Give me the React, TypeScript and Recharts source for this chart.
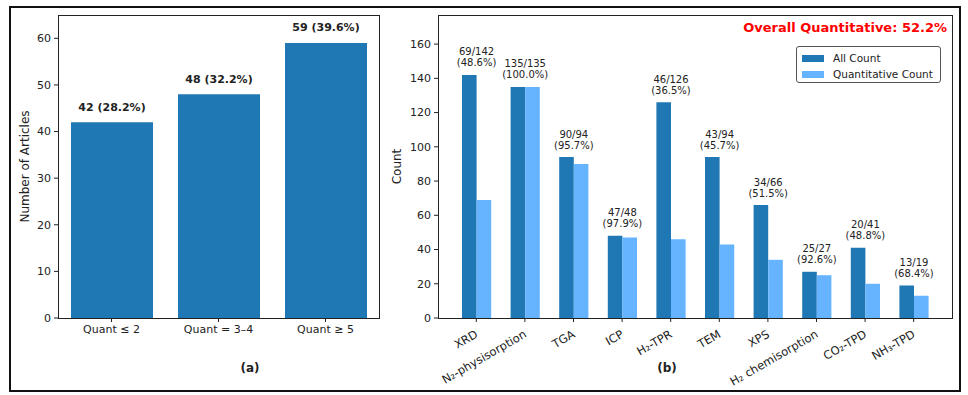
import React from "react";
import { BarChart, Bar, XAxis, YAxis, Legend, LabelList } from "recharts";

const FONT = "'DejaVu Sans', sans-serif";
const DARK = "#1f77b4";
const LIGHT = "#66b3ff";
const INK = "#222";

// panel (a)
const quantGroups = ["Quant ≤ 2", "Quant = 3–4", "Quant ≥ 5"];
const articleCounts = [42, 48, 59];
const leftTicks = [0, 10, 20, 30, 40, 50, 60];

// panel (b)
const techniques = [
  "XRD",
  "N₂-physisorption",
  "TGA",
  "ICP",
  "H₂-TPR",
  "TEM",
  "XPS",
  "H₂ chemisorption",
  "CO₂-TPD",
  "NH₃-TPD",
];
const allCounts = [142, 135, 94, 48, 126, 94, 66, 27, 41, 19];
const quantCounts = [69, 135, 90, 47, 46, 43, 34, 25, 20, 13];
const rightTicks = [0, 20, 40, 60, 80, 100, 120, 140, 160];
const overallText = "Overall Quantitative: 52.2%";

const totalArticles = articleCounts.reduce((a, b) => a + b, 0);
const leftData = quantGroups.map((g, i) => ({
  group: g,
  n: articleCounts[i],
  label: `${articleCounts[i]} (${((articleCounts[i] / totalArticles) * 100).toFixed(1)}%)`,
}));

const rightData = techniques.map((t, i) => ({
  tech: t,
  all: allCounts[i],
  quant: quantCounts[i],
  label: `${quantCounts[i]}/${allCounts[i]}\n(${((quantCounts[i] / allCounts[i]) * 100).toFixed(1)}%)`,
}));

const axisTick = { fontSize: 11, fill: INK, fontFamily: FONT };

function yLabel(text: string, x: number) {
  return (props: any) => {
    const vb = props.viewBox || {};
    const cy = vb.y + vb.height / 2;
    return (
      <text
        x={x}
        y={cy}
        transform={`rotate(-90 ${x} ${cy})`}
        textAnchor="middle"
        dominantBaseline="central"
        fontSize={12}
        fill={INK}
        fontFamily={FONT}
      >
        {text}
      </text>
    );
  };
}

function CountLabel(props: any) {
  const { x, y, width, value } = props;
  return (
    <text x={x + width / 2} y={y - 15} textAnchor="middle" dominantBaseline="central" fontSize={11} fontWeight="bold" fill={INK} fontFamily={FONT}>
      {value}
    </text>
  );
}

function RatioLabel(props: any) {
  const { x, y, width, value } = props;
  const cx = x + width; // centre of the pair: dark bar is the left half
  const [l1, l2] = String(value).split("\n");
  return (
    <g fontSize={10} fill={INK} fontFamily={FONT} textAnchor="middle">
      <text x={cx} y={y - 23} dominantBaseline="central">{l1}</text>
      <text x={cx} y={y - 12} dominantBaseline="central">{l2}</text>
    </g>
  );
}

function SlantTick({ x, y, payload }: any) {
  return (
    <g transform={`translate(${x - 2},${y + 5})`}>
      <text transform="rotate(-30)" textAnchor="end" dy="0.75em" fontSize={11.5} fill={INK} fontFamily={FONT}>
        {payload.value}
      </text>
    </g>
  );
}

function LegendBox({ payload }: any) {
  return (
    <div
      style={{
        width: 145,
        height: 37,
        boxSizing: "border-box",
        border: "1px solid #555",
        borderRadius: 3,
        background: "#fff",
        fontFamily: FONT,
        fontSize: 10.5,
        color: INK,
        padding: "3px 0 0 5px",
      }}
    >
      {(payload || []).map((p: any) => (
        <div key={p.value} style={{ display: "flex", alignItems: "center", height: 16 }}>
          <span style={{ width: 22, height: 7, background: p.color, marginRight: 9 }} />
          <span>{p.value}</span>
        </div>
      ))}
    </div>
  );
}

export default function App() {
  return (
    <div style={{ position: "absolute", left: 0, top: 0, width: 968, height: 395, background: "#fff", fontFamily: FONT }}>
      <div style={{ position: "absolute", left: 9, top: 6, width: 952, height: 386, border: "2px solid #111", boxSizing: "border-box" }} />

      <div style={{ position: "absolute", left: 0, top: 0 }}>
        <BarChart width={400} height={395} data={leftData} margin={{ top: 15, right: 21, left: 0, bottom: 47 }} barCategoryGap={0}>
          <XAxis dataKey="group" height={30} axisLine={false} tickSize={4} tickMargin={3} tick={axisTick} tickLine={{ stroke: INK }} interval={0} />
          <YAxis
            width={58}
            domain={[0, 65]}
            ticks={leftTicks}
            axisLine={false}
            tickSize={4}
            tickMargin={3}
            tick={axisTick}
            tickLine={{ stroke: INK }}
            label={{ content: yLabel("Number of Articles", 25) }}
          />
          <Bar dataKey="n" fill={DARK} barSize={82} isAnimationActive={false}>
            <LabelList dataKey="label" content={CountLabel} />
          </Bar>
        </BarChart>
      </div>
      <div style={{ position: "absolute", left: 58, top: 15, width: 322, height: 304, border: "1px solid #222", boxSizing: "border-box", pointerEvents: "none" }} />

      <div style={{ position: "absolute", left: 380, top: 0 }}>
        <BarChart width={588} height={395} data={rightData} margin={{ top: 15, right: 16, left: 0, bottom: 47 }} barGap={0} barCategoryGap={0}>
          <XAxis
            dataKey="tech"
            height={30}
            axisLine={false}
            padding={{ left: 14, right: 14 }}
            tickSize={4}
            tickMargin={2}
            tick={<SlantTick />}
            tickLine={{ stroke: INK }}
            interval={0}
          />
          <YAxis
            width={58}
            domain={[0, 177]}
            ticks={rightTicks}
            axisLine={false}
            tickSize={4}
            tickMargin={3}
            tick={axisTick}
            tickLine={{ stroke: INK }}
            label={{ content: yLabel("Count", 17) }}
          />
          <Legend
            layout="vertical"
            align="center"
            verticalAlign="middle"
            wrapperStyle={{ position: "absolute", left: 416, top: 46, width: 145, height: 37 }}
            content={<LegendBox />}
          />
          <Bar dataKey="all" name="All Count" fill={DARK} barSize={14.6} isAnimationActive={false}>
            <LabelList dataKey="label" content={RatioLabel} />
          </Bar>
          <Bar dataKey="quant" name="Quantitative Count" fill={LIGHT} barSize={14.6} isAnimationActive={false} />
        </BarChart>
      </div>
      <div style={{ position: "absolute", left: 438, top: 15, width: 515, height: 304, border: "1px solid #222", boxSizing: "border-box", pointerEvents: "none" }} />

      <div style={{ position: "absolute", right: 21, top: 20, fontSize: 13, fontWeight: "bold", color: "#ff0000", lineHeight: "16px", whiteSpace: "nowrap" }}>
        {overallText}
      </div>
      <div style={{ position: "absolute", left: 230, width: 40, top: 360, textAlign: "center", fontSize: 12, fontWeight: "bold", color: INK, lineHeight: "16px" }}>
        (a)
      </div>
      <div style={{ position: "absolute", left: 647, width: 40, top: 360, textAlign: "center", fontSize: 12, fontWeight: "bold", color: INK, lineHeight: "16px" }}>
        (b)
      </div>
    </div>
  );
}
